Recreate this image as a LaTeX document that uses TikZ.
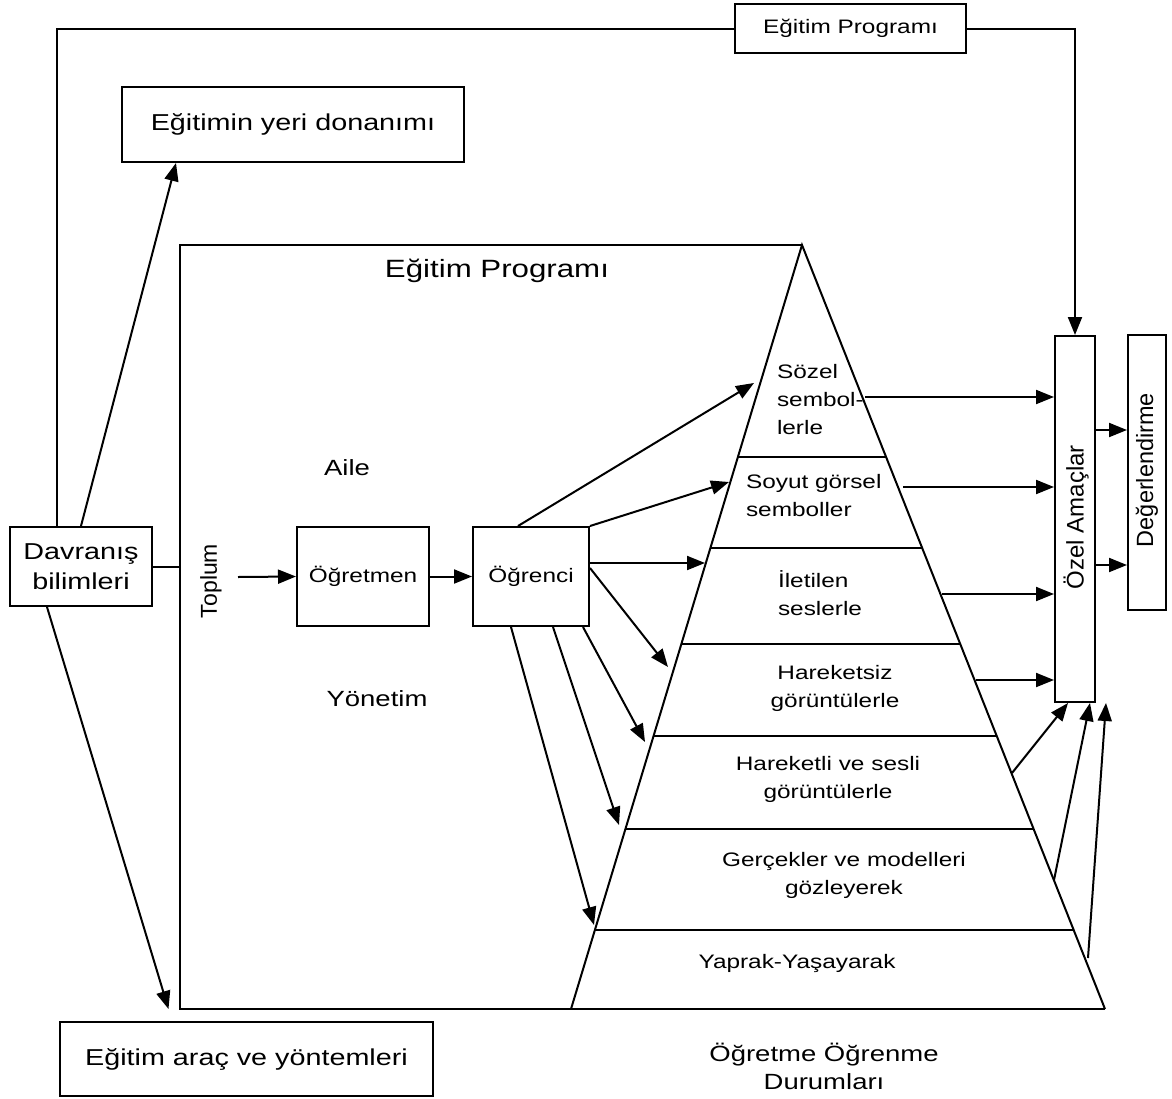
\documentclass[tikz,border=0pt]{standalone}
\usepackage{fontspec}
\setmainfont{Liberation Sans}
\newfontfamily\hs[FakeStretch=1.25]{Liberation Sans}
\usetikzlibrary{arrows.meta,calc}
\begin{document}
\begin{tikzpicture}[x=0.5pt,y=-0.5pt, line width=1pt,
  arr/.style={-{Triangle[length=9pt,width=7pt]}},
  box/.style={draw, inner sep=0pt, align=center},
  big/.style={font=\hs\fontsize{11.5}{15}\selectfont},
  mid/.style={font=\hs\fontsize{11}{14}\selectfont},
  small/.style={font=\hs\fontsize{9.75}{14}\selectfont},
  rot/.style={rotate=90, inner sep=0pt},
]
\useasboundingbox (0,0) rectangle (1172,1098);

% ---------- boxes ----------
\node[box, small, minimum width=115.5pt, minimum height=24.5pt] (tprog) at (850.5,28.5) {Eğitim Programı};
\node[box, big, minimum width=171pt, minimum height=37.5pt] (yeri) at (293,124.5) {Eğitimin yeri donanımı};
\node[box, big, minimum width=71pt, minimum height=39.5pt] (davr) at (81,566.5) {Davranış\\bilimleri};
\node[box, big, minimum width=186.5pt, minimum height=37pt] (arac) at (246.5,1059) {Eğitim araç ve yöntemleri};
\node[box, small, minimum width=66pt, minimum height=49.5pt] (ogretmen) at (363,576.5) {Öğretmen};
\node[box, small, minimum width=58pt, minimum height=49.5pt] (ogrenci) at (531,576.5) {Öğrenci};
\node[draw, inner sep=0pt, minimum width=20pt, minimum height=183pt] (ozel) at (1075,519) {};
\node[rot, font=\fontsize{12}{14}\selectfont] (ozeltxt) at (1076,517) {Özel Amaçlar};
\node[draw, inner sep=0pt, minimum width=19pt, minimum height=137.5pt] (deg) at (1147,472.5) {};
\node[rot, font=\fontsize{11.75}{14}\selectfont] (degtxt) at (1147,470) {Değerlendirme};

% ---------- frame and pyramid ----------
\coordinate (ftl) at (180,245);
\coordinate (fbl) at (180,1009);
\coordinate (apex) at (802,245);
\coordinate (bl) at (571,1009);
\coordinate (br) at (1105,1009);
\draw (apex) -- (ftl) -- (fbl) -- (br);
\draw (bl) -- (apex) -- (br);
\foreach \t in {0.2775,0.3966,0.5223,0.6427,0.7644,0.8966}
  \draw ($(apex)!\t!(bl)$) -- ($(apex)!\t!(br)$);

% ---------- texts ----------
\node[font=\hs\fontsize{12.5}{15}\selectfont] (prog) at (497,271) {Eğitim Programı};
\node[mid] (aile) at (347,468) {Aile};
\node[mid] (yonetim) at (377,699) {Yönetim};
\node[rot, font=\fontsize{11.5}{14}\selectfont] (toplum) at (211,581) {Toplum};

\node[small, align=left, anchor=west, inner sep=0pt] (sozel) at (776,400) {Sözel\\sembol-\\lerle};
\node[small, align=left, anchor=west, inner sep=0pt] (soyut) at (745,496) {Soyut görsel\\semboller};
\node[small, align=left, anchor=west, inner sep=0pt] (iletilen) at (777,593) {İletilen\\seslerle};
\node[small, align=center] (hareketsiz) at (835,688) {Hareketsiz\\görüntülerle};
\node[small, align=center] (hareketli) at (828,779) {Hareketli ve sesli\\görüntülerle};
\node[small, align=center] (gercek) at (844,875) {Gerçekler ve modelleri\\gözleyerek};
\node[small] (yaprak) at (797,963) {Yaprak-Yaşayarak};
\node[mid, align=center] (durum) at (824,1066) {Öğretme Öğrenme\\Durumları};

% ---------- connectors ----------
\draw (tprog.west) -| ([xshift=-12pt]davr.north);
\draw[arr] (tprog.east) -| (ozel.north);
\draw[arr] (davr.north) -- ([xshift=-58.5pt]yeri.south);
\draw[arr] ([xshift=-17pt]davr.south) -- ([shift={(-39pt,6pt)}]arac.north);
\draw (davr.east) -- (davr.east -| ftl);

\coordinate (tp) at (238,577);
\draw[arr] (tp) -- (ogretmen.west);
\draw[arr] (ogretmen.east) -- (ogrenci.west);

\coordinate (s1) at (754,383);
\coordinate (s2) at (729,482);
\coordinate (s3) at (705,563);
\coordinate (s4) at (668,667);
\coordinate (s5) at (645,742);
\coordinate (s6) at (619,825);
\coordinate (s7) at (594,925);
\draw[arr] ([xshift=-6.5pt]ogrenci.north) -- (s1);
\draw[arr] (ogrenci.north east) -- (s2);
\draw[arr] ([yshift=6.75pt]ogrenci.east) -- (s3);
\draw[arr] ([yshift=4.25pt]ogrenci.east) -- (s4);
\draw[arr] ([xshift=26pt]ogrenci.south) -- (s5);
\draw[arr] ([xshift=11pt]ogrenci.south) -- (s6);
\draw[arr] ([xshift=-10pt]ogrenci.south) -- (s7);

\coordinate (r1) at (865,397);
\coordinate (r2) at (903,487);
\coordinate (r3) at (942,594);
\coordinate (r4) at (976,680);
\coordinate (r5) at (1012,773);
\coordinate (r6) at (1054,880);
\coordinate (r7) at (1088,958);
\foreach \r in {r1,r2,r3,r4}
  \draw[arr] (\r) -- (ozel.west |- \r);
\draw[arr] (r5) -- ([xshift=-3.5pt]ozel.south);
\draw[arr] (r6) -- ([xshift=7.5pt]ozel.south);
\draw[arr] (r7) -- ([xshift=15.5pt]ozel.south);

\draw[arr] ([yshift=44.5pt]ozel.east) -- ([yshift=44.5pt]ozel.east -| deg.west);
\draw[arr] ([yshift=-23pt]ozel.east) -- ([yshift=-23pt]ozel.east -| deg.west);
\end{tikzpicture}
\end{document}
